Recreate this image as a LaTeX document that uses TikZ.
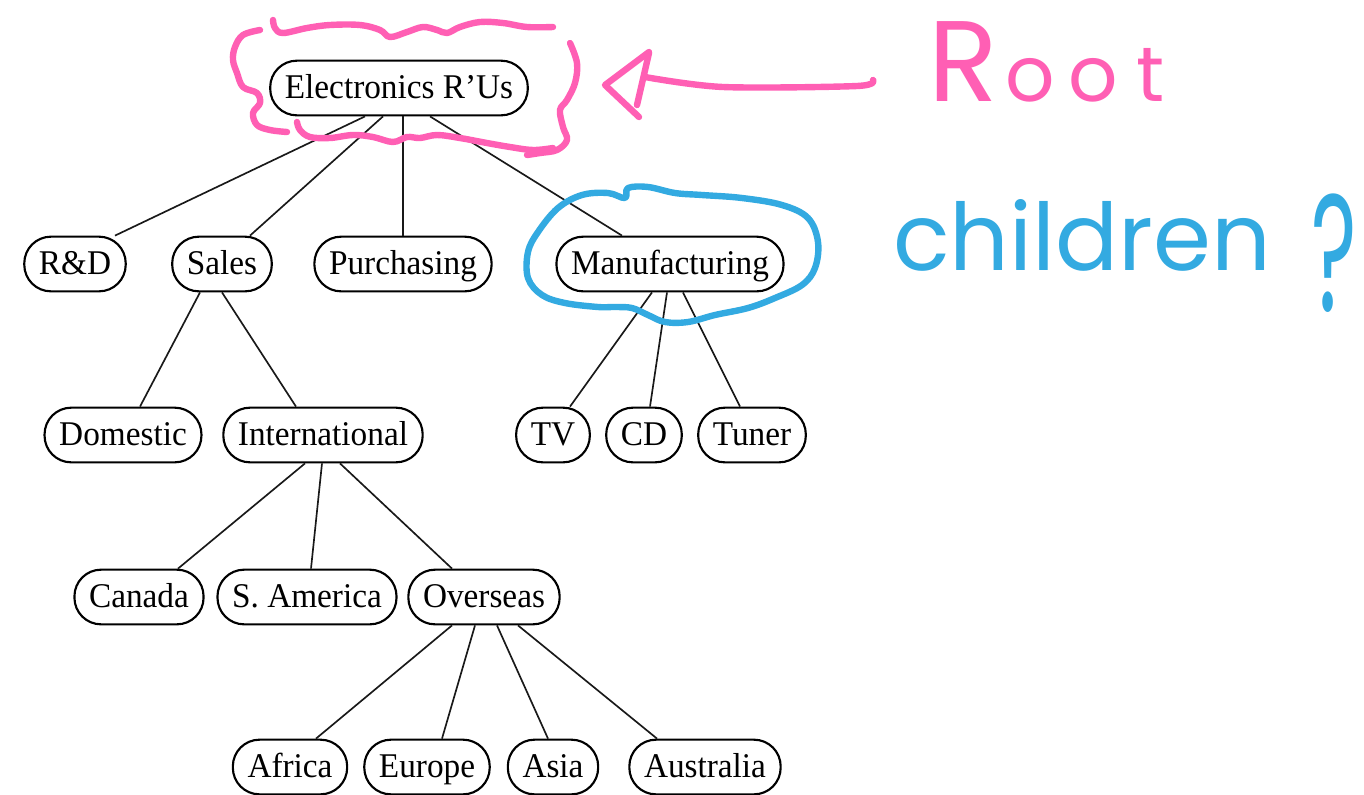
\documentclass[tikz,border=0pt]{standalone}
\usepackage{fontspec}
\setmainfont{Liberation Serif}[FakeStretch=0.96]
\newfontfamily\handfont{Poppins}
\usetikzlibrary{calc}
\definecolor{inkpink}{HTML}{FF5FB4}
\definecolor{inkblue}{HTML}{33AAE1}

% connector from a point on the parent's lower edge to the child's upper edge
\newcommand\linkup[4]{\draw[link] ($(#1.south)+(#2,0)$) -- ($(#3.north)+(#4,0)$);}

\begin{document}
\begin{tikzpicture}[x=0.75pt,y=-0.75pt,
  unit/.style={draw=black,line width=1.6pt,rounded corners=20pt,
    minimum height=41pt,inner xsep=11pt,inner ysep=0pt,
    text height=19pt,text depth=4pt,
    font=\fontsize{26}{28}\selectfont},
  link/.style={line width=1.25pt,black!90},
  pinkink/.style={draw=inkpink,line width=4.8pt,line cap=round,line join=round},
  blueink/.style={draw=inkblue,line width=4.8pt,line cap=round,line join=round}]

\useasboundingbox[fill=white] (0,0) rectangle (1364,794);

% organisation tree
\node[unit] (root)     at (399,88)  {Electronics R'Us};
\node[unit] (rd)       at (75,264)  {R\&D};
\node[unit] (sales)    at (222,264) {Sales};
\node[unit] (purch)    at (403,264) {Purchasing};
\node[unit] (manuf)    at (670,264) {Manufacturing};
\node[unit] (dom)      at (123,435) {Domestic};
\node[unit] (intl)     at (323,435) {International};
\node[unit] (tv)       at (553,435) {TV};
\node[unit] (cd)       at (644,435) {CD};
\node[unit] (tuner)    at (752,435) {Tuner};
\node[unit] (canada)   at (139,597) {Canada};
\node[unit] (sam)      at (307,597) {S. America};
\node[unit] (overseas) at (484,597) {Overseas};
\node[unit] (africa)   at (290,767) {Africa};
\node[unit] (europe)   at (427,767) {Europe};
\node[unit] (asia)     at (553,767) {Asia};
\node[unit] (austr)    at (705,767) {Australia};

\linkup{root}{-34}{rd}{40}
\linkup{root}{-16}{sales}{28}
\linkup{root}{4}{purch}{0}
\linkup{root}{31}{manuf}{-48}
\linkup{sales}{-22}{dom}{17}
\linkup{sales}{0}{intl}{-27}
\linkup{intl}{-18}{canada}{39}
\linkup{intl}{-1}{sam}{4}
\linkup{intl}{17}{overseas}{-32}
\linkup{manuf}{-18}{tv}{17}
\linkup{manuf}{-3}{cd}{6}
\linkup{manuf}{13}{tuner}{-12}
\linkup{overseas}{-32}{africa}{26}
\linkup{overseas}{-9}{europe}{15}
\linkup{overseas}{13}{asia}{-5}
\linkup{overseas}{34}{austr}{-48}

% pink scribble round the root
\draw[pinkink] plot[smooth,tension=0.6] coordinates {(273,20) (275,28) (283,33) (307,28)
  (330,25) (360,25) (380,30) (390,37) (407,32) (423,27) (437,30) (447,33) (460,27)
  (480,22) (503,23) (527,27) (553,27)};
\draw[pinkink] plot[smooth,tension=0.6] coordinates {(260,30) (243,35) (235,47) (233,60)
  (237,73) (243,87) (257,93) (260,103) (253,113) (257,125) (270,130) (287,132)};
\draw[pinkink] plot[smooth,tension=0.6] coordinates {(297,122) (300,130) (310,137)
  (330,138) (353,135) (373,137) (393,142) (407,137) (420,138) (437,135) (460,138)
  (487,143) (510,147) (533,150) (553,148)};
\draw[pinkink] plot[smooth,tension=0.6] coordinates {(570,43) (577,63) (575,83) (567,100)
  (560,110) (563,127) (567,140) (557,150) (540,153) (527,155)};

% pink arrow pointing at the root
\coordinate (arrowtip) at (605,85);
\draw[pinkink] plot[smooth,tension=0.5] coordinates {(645,77) (723,87) (857,86) (873,80)};
\draw[pinkink] (649,52) -- (arrowtip) -- (639,117);
\draw[pinkink] (649,53) -- (637,105);

\node[anchor=base west,inner sep=0pt,text=inkpink] (roottext) at (928,101)
  {\handfont\fontsize{86}{86}\selectfont R\hspace{6pt}{\fontsize{58}{58}\selectfont o\hspace{10pt}o\hspace{14pt}t}};

% blue loop round Manufacturing
\draw[blueink] plot[smooth cycle,tension=0.6] coordinates {(625,198) (628,188) (648,187)
  (675,193) (702,195) (742,198) (782,205) (808,218) (818,242) (815,268) (802,285)
  (775,298) (748,308) (715,315) (688,322) (665,322) (648,315) (632,308) (615,307)
  (598,307) (565,303) (542,295) (528,278) (528,252) (538,232) (558,208) (582,195)
  (608,193)};

\node[anchor=base west,inner sep=0pt,text=inkblue] (childtext) at (893,270)
  {\handfont\fontsize{70}{70}\selectfont children\hspace{30pt}\raisebox{-31pt}{\scalebox{0.65}[1.25]{\fontsize{100}{100}\selectfont ?}}};

\end{tikzpicture}
\end{document}
